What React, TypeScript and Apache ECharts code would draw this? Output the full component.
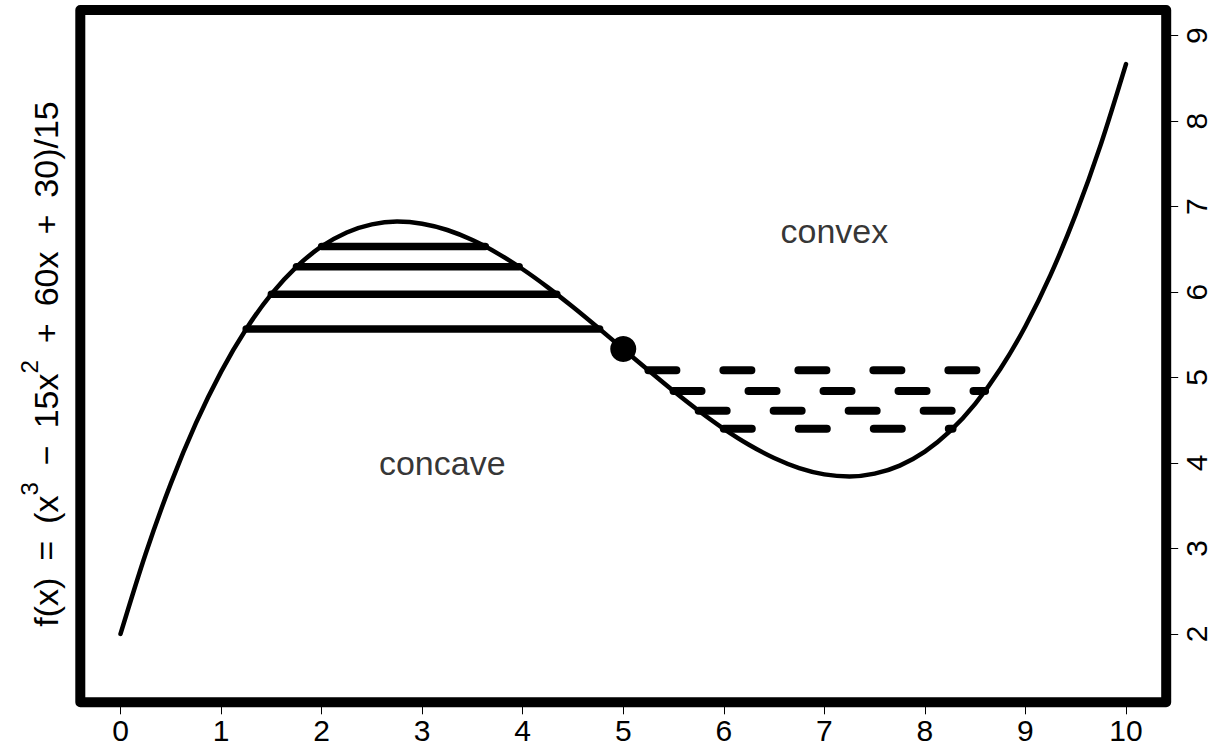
import React, { useEffect, useRef } from "react";
import * as echarts from "echarts";

// f(x) = (x^3 - 15x^2 + 60x + 30)/15, values read at x = 0, 0.25, ..., 10
const curveX = [
  0, 0.25, 0.5, 0.75, 1, 1.25, 1.5, 1.75, 2, 2.25, 2.5, 2.75, 3, 3.25, 3.5, 3.75, 4, 4.25, 4.5, 4.75, 5,
  5.25, 5.5, 5.75, 6, 6.25, 6.5, 6.75, 7, 7.25, 7.5, 7.75, 8, 8.25, 8.5, 8.75, 9, 9.25, 9.5, 9.75, 10,
];
const curveY = [
  2.0, 2.9385, 3.7583, 4.4656, 5.0667, 5.5677, 5.975, 6.2948, 6.5333, 6.6969, 6.7917, 6.824, 6.8, 6.726,
  6.6083, 6.4531, 6.2667, 6.0552, 5.825, 5.5823, 5.3333, 5.0844, 4.8417, 4.6115, 4.4, 4.2135, 4.0583,
  3.9406, 3.8667, 3.8427, 3.875, 3.9698, 4.1333, 4.3719, 4.6917, 5.099, 5.6, 6.201, 6.9083, 7.7281, 8.6667,
];

// horizontal chords in the concave part (solid)
const solidLevels = [5.5677, 5.975, 6.2948, 6.5333];
const solidLeftX = [1.25, 1.5, 1.75, 2.0];
const solidRightX = [4.765, 4.339, 3.965, 3.628];

// horizontal chords in the convex part (dashed)
const dashedLevels = [5.0844, 4.8417, 4.6115, 4.4];
const dashedLeftX = [5.25, 5.5, 5.75, 6.0];
const dashedRightX = [8.742, 8.599, 8.443, 8.275];

const inflection = [5, 5.3333];

const annotations = [
  { name: "concave", x: 3.2, y: 4.0 },
  { name: "convex", x: 7.1, y: 6.72 },
];

const xTicks = [0, 1, 2, 3, 4, 5, 6, 7, 8, 9, 10];
const yTicks = [2, 3, 4, 5, 6, 7, 8, 9];

const FONT = "'Liberation Sans', Arial, Helvetica, sans-serif";
const SP = "\u2002";

export default function App() {
  const ref = useRef<HTMLDivElement>(null);

  useEffect(() => {
    if (!ref.current) return;
    const chart = echarts.init(ref.current, undefined, { renderer: "svg" });

    const gridLeft = 80.3;
    const gridTop = 10;
    const gridWidth = 1085.9;
    const gridHeight = 692.3;

    const solidSeries = solidLevels.map((lv, i) => ({
      type: "line",
      data: [
        [solidLeftX[i], lv],
        [solidRightX[i], lv],
      ],
      symbol: "none",
      lineStyle: { color: "#000", width: 7.5, cap: "round" },
      z: 3,
      silent: true,
    }));

    const dashedSeries = dashedLevels.map((lv, i) => ({
      type: "line",
      data: [
        [dashedLeftX[i], lv],
        [dashedRightX[i], lv],
      ],
      symbol: "none",
      lineStyle: { color: "#000", width: 8, cap: "round", type: [28, 47] },
      z: 3,
      silent: true,
    }));

    const titleText =
      `{m|f(x)${SP}=${SP}(x}{s|3}{m|${SP}−${SP}15x}{s|2}{m|${SP}+${SP}60x${SP}+${SP}30)/15}`;

    const option: any = {
      animation: false,
      backgroundColor: "#fff",
      grid: { left: gridLeft, top: gridTop, width: gridWidth, height: gridHeight, containLabel: false },
      xAxis: {
        type: "value",
        min: -0.4,
        max: 10.4,
        axisLine: { show: false, onZero: false },
        splitLine: { show: false },
        axisTick: { show: true, length: 12, lineStyle: { color: "#000", width: 1 }, customValues: xTicks },
        axisLabel: { customValues: xTicks, fontSize: 30, color: "#000", fontFamily: FONT, margin: 13 },
      },
      yAxis: {
        type: "value",
        position: "right",
        min: 1.2,
        max: 9.3,
        axisLine: { show: false, onZero: false },
        splitLine: { show: false },
        axisTick: { show: true, length: 12, lineStyle: { color: "#000", width: 1 }, customValues: yTicks },
        axisLabel: { customValues: yTicks, fontSize: 30, color: "#000", fontFamily: FONT, margin: 15, rotate: 90 },
      },
      graphic: [
        {
          type: "rect",
          shape: { x: gridLeft, y: gridTop, width: gridWidth, height: gridHeight },
          style: { fill: "none", stroke: "#000", lineWidth: 10, lineJoin: "round" },
          z: 10,
          silent: true,
        },
        {
          type: "text",
          x: 40,
          y: 364,
          rotation: Math.PI / 2,
          style: {
            text: titleText,
            align: "center",
            verticalAlign: "middle",
            fill: "#000",
            font: `34px ${FONT}`,
            rich: {
              m: { fontSize: 34, fontFamily: FONT, fill: "#000", lineHeight: 46, verticalAlign: "bottom" },
              s: { fontSize: 24, fontFamily: FONT, fill: "#000", lineHeight: 46, verticalAlign: "top" },
            },
          },
          z: 10,
        },
      ],
      series: [
        {
          type: "line",
          data: curveX.map((x, i) => [x, curveY[i]]),
          smooth: 0.3,
          symbol: "none",
          lineStyle: { color: "#000", width: 4.5, cap: "round" },
          z: 2,
          silent: true,
        },
        ...solidSeries,
        ...dashedSeries,
        {
          type: "scatter",
          data: [inflection],
          symbol: "circle",
          symbolSize: 26,
          itemStyle: { color: "#000", opacity: 1 },
          z: 5,
          silent: true,
        },
        {
          type: "scatter",
          data: annotations.map((a) => ({ name: a.name, value: [a.x, a.y] })),
          symbolSize: 1,
          itemStyle: { color: "rgba(255,255,255,0)" },
          label: {
            show: true,
            position: "inside",
            formatter: (p: any) => p.name,
            fontSize: 34,
            color: "#000",
            textBorderWidth: 0,
            fontFamily: FONT,
          },
          z: 5,
          silent: true,
        },
      ],
    };

    chart.setOption(option);
    return () => chart.dispose();
  }, []);

  return (
    <div
      ref={ref}
      style={{ position: "absolute", left: 0, top: 0, width: 1213, height: 750, background: "#fff" }}
    />
  );
}
